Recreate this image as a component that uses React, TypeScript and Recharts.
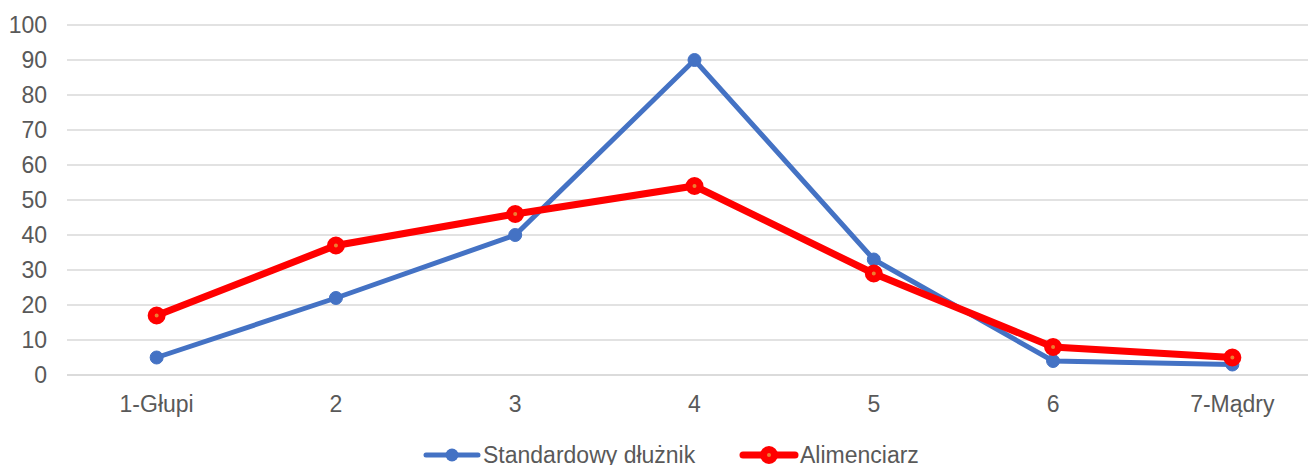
import { LineChart, Line, XAxis, YAxis, CartesianGrid, Legend } from 'recharts';

const categories = ['1-Głupi', '2', '3', '4', '5', '6', '7-Mądry'];
const standardowy = [5, 22, 40, 90, 33, 4, 3];
const alimenciarz = [17, 37, 46, 54, 29, 8, 5];
const yTicks = [0, 10, 20, 30, 40, 50, 60, 70, 80, 90, 100];

const data = categories.map((name, i) => ({
  name,
  standardowy: standardowy[i],
  alimenciarz: alimenciarz[i],
}));

const BLUE = '#4472C4';
const RED = '#FF0000';
const ORANGE = '#ED7D31';
const TEXT = '#595959';
const GRID = '#D9D9D9';
const FONT = 'Liberation Sans, Arial, sans-serif';

function LegendBox() {
  return (
    <div
      style={{
        position: 'relative',
        height: 50,
        fontFamily: FONT,
        fontSize: 23,
        color: TEXT,
        lineHeight: '24px',
        textAlign: 'left',
      }}
    >
      <svg width={60} height={24} style={{ position: 'absolute', left: 422, top: 28 }}>
        <line x1={4} y1={12} x2={56} y2={12} stroke={BLUE} strokeWidth={5} strokeLinecap="round" />
        <circle cx={30} cy={12} r={6.5} fill={BLUE} />
      </svg>
      <span style={{ position: 'absolute', left: 483, top: 28 }}>Standardowy dłużnik</span>
      <svg width={62} height={24} style={{ position: 'absolute', left: 738, top: 28 }}>
        <line x1={5} y1={12} x2={57} y2={12} stroke={RED} strokeWidth={7} strokeLinecap="round" />
        <circle cx={31} cy={12} r={5.5} fill={ORANGE} stroke={RED} strokeWidth={7} />
      </svg>
      <span style={{ position: 'absolute', left: 800, top: 28 }}>Alimenciarz</span>
    </div>
  );
}

export default function App() {
  return (
    <div style={{ position: 'absolute', left: 0, top: 0, width: 1308, height: 465, overflow: 'hidden', background: '#fff' }}>
      <LineChart width={1322} height={465} data={data} margin={{ top: 25, right: 0, left: 0, bottom: 0 }}>
        <CartesianGrid vertical={false} stroke={GRID} strokeWidth={1.5} />
        <XAxis
          dataKey="name"
          scale="band"
          height={40}
          tickLine={false}
          axisLine={{ stroke: GRID, strokeWidth: 1.5 }}
          tick={{ fill: TEXT, fontSize: 23, fontFamily: FONT }}
          tickMargin={15}
          interval={0}
        />
        <YAxis
          domain={[0, 100]}
          ticks={yTicks}
          width={67}
          tickLine={false}
          axisLine={false}
          tick={{ fill: TEXT, fontSize: 23, fontFamily: FONT }}
          tickMargin={14}
          interval={0}
        />
        <Legend verticalAlign="bottom" content={() => <LegendBox />} />
        <Line
          dataKey="standardowy"
          name="Standardowy dłużnik"
          stroke={BLUE}
          strokeWidth={5}
          dot={{ r: 6.5, fill: BLUE, stroke: BLUE, strokeWidth: 1 }}
          isAnimationActive={false}
        />
        <Line
          dataKey="alimenciarz"
          name="Alimenciarz"
          stroke={RED}
          strokeWidth={7}
          dot={{ r: 5.5, fill: ORANGE, stroke: RED, strokeWidth: 7 }}
          isAnimationActive={false}
        />
      </LineChart>
    </div>
  );
}
